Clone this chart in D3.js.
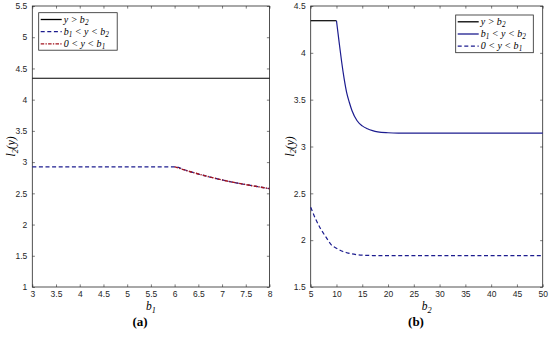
<!DOCTYPE html>
<html><head><meta charset="utf-8">
<script src="https://cdn.jsdelivr.net/npm/d3@7"></script>
<style>
body{margin:0;background:#fff;}
svg{display:block;}
.tick text{font-family:"Liberation Sans",Arial,sans-serif;font-size:8.5px;fill:#262626;}
.math{font-family:"Liberation Serif","DejaVu Serif",serif;font-style:italic;fill:#000;}
</style></head>
<body>
<svg id="c" width="550" height="337"></svg>
<script>
// ---------- data ----------
// Panel (a): x = b1
const aXTicks = [3, 3.5, 4, 4.5, 5, 5.5, 6, 6.5, 7, 7.5, 8];
const aYTicks = [1, 1.5, 2, 2.5, 3, 3.5, 4, 4.5, 5, 5.5];
const aAboveX = [3, 8];
const aAboveY = [4.343, 4.343];
const aMiddleX = [3, 4, 5, 6, 6.25, 6.5, 6.75, 7, 7.25, 7.5, 7.75, 8];
const aMiddleY = [2.925, 2.925, 2.925, 2.925, 2.865, 2.81, 2.76, 2.715, 2.675, 2.64, 2.607, 2.575];
const aLowerX = [6, 6.25, 6.5, 6.75, 7, 7.25, 7.5, 7.75, 8];
const aLowerY = [2.925, 2.865, 2.81, 2.76, 2.715, 2.675, 2.64, 2.607, 2.575];

// Panel (b): x = b2
const bXTicks = [5, 10, 15, 20, 25, 30, 35, 40, 45, 50];
const bYTicks = [1.5, 2, 2.5, 3, 3.5, 4, 4.5];
const bAboveX = [5, 10];
const bAboveY = [4.343, 4.343];
const bMiddleX = [10, 10.5, 11, 11.5, 12, 12.5, 13, 14, 15, 16, 17, 18, 20, 22, 25, 30, 40, 50];
const bMiddleY = [4.343, 4.12, 3.905, 3.72, 3.57, 3.47, 3.385, 3.275, 3.22, 3.19, 3.17, 3.157, 3.147, 3.143, 3.142, 3.142, 3.142, 3.142];
const bLowerX = [5, 6, 7, 8, 9, 10, 11, 12, 13, 14, 15, 17, 20, 30, 50];
const bLowerY = [2.352, 2.22, 2.115, 2.03, 1.95, 1.914, 1.885, 1.866, 1.853, 1.845, 1.84, 1.836, 1.834, 1.834, 1.834];

const BLUE = "#1c1c8f", RED = "#a3151f", BLACK = "#000";

const svg = d3.select("#c");

function subText(sel, parts, shift){
  let cur = 0;
  parts.forEach(p=>{
    const t = sel.append("tspan").text(p[0]);
    const target = p[1] ? shift : 0;
    if(target !== cur){ t.attr("dy", (target-cur)+"px"); cur = target; }
    if(p[1]) t.attr("font-size","0.72em");
  });
}

function panel(opt){
  const x = d3.scaleLinear().domain(opt.xd).range([opt.l, opt.r]);
  const y = d3.scaleLinear().domain(opt.yd).range([opt.b, opt.t]);
  const g = svg.append("g");
  const tl = 2.6;
  const ax = g.append("g").attr("transform",`translate(0,${opt.b})`)
    .call(d3.axisBottom(x).tickValues(opt.xt).tickSizeInner(-tl).tickSizeOuter(0).tickPadding(5).tickFormat(d3.format("")));
  g.append("g").attr("transform",`translate(0,${opt.t})`)
    .call(d3.axisTop(x).tickValues(opt.xt).tickSizeInner(-tl).tickSizeOuter(0).tickFormat(""));
  g.append("g").attr("transform",`translate(${opt.l},0)`)
    .call(d3.axisLeft(y).tickValues(opt.yt).tickSizeInner(-tl).tickSizeOuter(0).tickPadding(5).tickFormat(d3.format("")));
  g.append("g").attr("transform",`translate(${opt.r},0)`)
    .call(d3.axisRight(y).tickValues(opt.yt).tickSizeInner(-tl).tickSizeOuter(0).tickFormat(""));
  g.selectAll(".tick line").attr("stroke","#262626").attr("stroke-width",0.6);
  ax.selectAll(".tick text").attr("dy","0.6em");
  g.selectAll(".domain").remove();
  g.append("rect").attr("x",opt.l).attr("y",opt.t).attr("width",opt.r-opt.l).attr("height",opt.b-opt.t)
    .attr("fill","none").attr("stroke","#262626").attr("stroke-width",0.8);

  const line = d3.line().x(d=>x(d[0])).y(d=>y(d[1])).curve(d3.curveMonotoneX);
  opt.series.forEach(s=>{
    g.append("path").datum(d3.zip(s.x, s.y)).attr("d", line)
      .attr("fill","none").attr("stroke", s.color).attr("stroke-width", s.w || 1.2)
      .attr("stroke-dasharray", s.dash || null);
  });

  const xl = g.append("text").attr("class","math").attr("x",(opt.l+opt.r)/2).attr("y",opt.b+23)
    .attr("text-anchor","middle").attr("font-size","11.5px");
  subText(xl, [["b"],[opt.xsub,true]], 2.5);
  const yl = g.append("text").attr("class","math")
    .attr("transform",`translate(${opt.l-17},${(opt.t+opt.b)/2}) rotate(-90)`)
    .attr("text-anchor","middle").attr("font-size","11.5px");
  subText(yl, [["l"],["2",true],["(y)"]], 2.5);

  g.append("text").attr("x",opt.cap[0]).attr("y",opt.cap[1]).attr("text-anchor","middle")
    .attr("font-family","Liberation Serif, DejaVu Serif, serif").attr("font-size","13px").attr("font-weight","bold")
    .text(opt.capText);

  const L = opt.legend;
  const lg = g.append("g");
  lg.append("rect").attr("x",L.x).attr("y",L.y).attr("width",L.w).attr("height",L.h)
    .attr("fill","#fff").attr("stroke","#262626").attr("stroke-width",0.8);
  L.items.forEach((it,i)=>{
    const yy = L.y + 6.8 + i*12.2;
    lg.append("line").attr("x1",L.x+2).attr("x2",L.x+23).attr("y1",yy).attr("y2",yy)
      .attr("stroke",it.color).attr("stroke-width",1.3).attr("stroke-dasharray",it.dash||null);
    const t = lg.append("text").attr("class","math").attr("x",L.x+25).attr("y",yy+3.2).attr("font-size","10px")
      .attr("xml:space","preserve");
    subText(t, it.parts, 1.8);
  });
}

const DASH = "4,2.6";
const DASHDOT = "3.5,1.3,1.3,1.3";

const legA = [
  {color:BLACK, parts:[["y > b"],["2",true]]},
  {color:BLUE, dash:DASH, parts:[["b"],["1",true],[" < y < b"],["2",true]]},
  {color:RED, dash:DASHDOT, parts:[["0 < y < b"],["1",true]]}
];
const legB = [
  {color:BLACK, parts:[["y > b"],["2",true]]},
  {color:BLUE, parts:[["b"],["1",true],[" < y < b"],["2",true]]},
  {color:BLUE, dash:DASH, parts:[["0 < y < b"],["1",true]]}
];

panel({xd:[3,8], yd:[1,5.5], l:32.3, r:269.5, t:6, b:287, xt:aXTicks, yt:aYTicks, xsub:"1",
  cap:[140,326], capText:"(a)",
  series:[
    {x:aAboveX, y:aAboveY, color:BLACK},
    {x:aMiddleX, y:aMiddleY, color:BLUE, dash:DASH},
    {x:aLowerX, y:aLowerY, color:RED, dash:DASHDOT, w:1.4}
  ],
  legend:{x:38.7, y:12.7, w:78.5, h:37.5, items:legA}
});

panel({xd:[5,50], yd:[1.5,4.5], l:310.7, r:542.7, t:6, b:287, xt:bXTicks, yt:bYTicks, xsub:"2",
  cap:[416,326], capText:"(b)",
  series:[
    {x:bAboveX, y:bAboveY, color:BLACK},
    {x:bMiddleX, y:bMiddleY, color:BLUE},
    {x:bLowerX, y:bLowerY, color:BLUE, dash:DASH}
  ],
  legend:{x:455.7, y:15, w:77.6, h:37.7, items:legB}
});
</script>
</body></html>
